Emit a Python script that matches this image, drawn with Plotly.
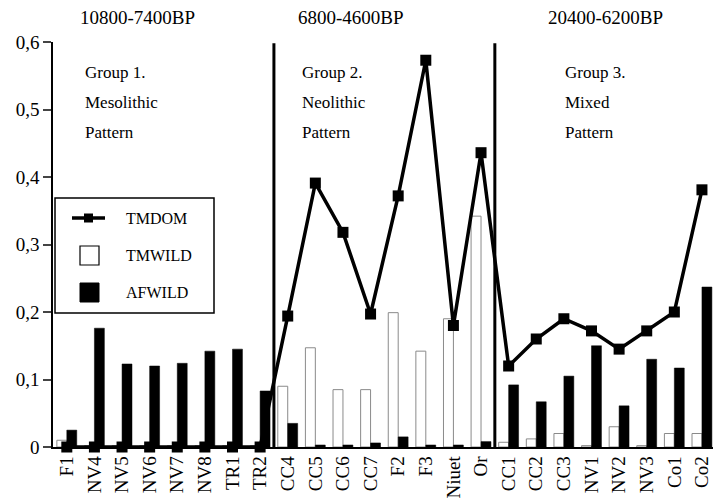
import plotly.graph_objects as go

categories = ["F1", "NV4", "NV5", "NV6", "NV7", "NV8", "TR1", "TR2",
              "CC4", "CC5", "CC6", "CC7", "F2", "F3", "Niuet", "Or",
              "CC1", "CC2", "CC3", "NV1", "NV2", "NV3", "Co1", "Co2"]
tmdom = [0, 0, 0, 0, 0, 0, 0, 0,
         0.194, 0.391, 0.318, 0.197, 0.372, 0.573, 0.180, 0.436,
         0.120, 0.160, 0.190, 0.172, 0.145, 0.172, 0.200, 0.381]
tmwild = [0.010, 0.002, 0.002, 0.002, 0.002, 0.002, 0.002, 0.002,
          0.090, 0.147, 0.085, 0.085, 0.199, 0.142, 0.190, 0.342,
          0.007, 0.012, 0.020, 0.002, 0.030, 0.002, 0.020, 0.020]
afwild = [0.025, 0.176, 0.123, 0.120, 0.124, 0.142, 0.145, 0.083,
          0.035, 0.003, 0.003, 0.006, 0.015, 0.003, 0.003, 0.008,
          0.092, 0.067, 0.105, 0.150, 0.061, 0.130, 0.117, 0.237]
y_ticks = [0, 0.1, 0.2, 0.3, 0.4, 0.5, 0.6]
y_ticktext = ["0", "0,1", "0,2", "0,3", "0,4", "0,5", "0,6"]
period_labels = ["10800-7400BP", "6800-4600BP", "20400-6200BP"]
group_labels = [["Group 1.", "Mesolithic", "Pattern"],
                ["Group 2.", "Neolithic", "Pattern"],
                ["Group 3.", "Mixed", "Pattern"]]
series_names = ["TMDOM", "TMWILD", "AFWILD"]

W, H = 713, 498
ML, MR, MT, MB = 53, 0, 42, 51
PW, PH = W - ML - MR, H - MT - MB
FONT = "Liberation Serif, Times New Roman, serif"


def px(x):
    return (x - ML) / PW


def py(y):
    return (H - MB - y) / PH


xs = list(range(len(categories)))

fig = go.Figure()
fig.add_trace(go.Bar(x=xs, y=tmwild, name=series_names[1],
                     marker=dict(color="white", line=dict(color="#8a8a8a", width=1)),
                     showlegend=False))
fig.add_trace(go.Bar(x=xs, y=afwild, name=series_names[2],
                     marker=dict(color="black", line=dict(color="black", width=0.5)),
                     showlegend=False))
fig.add_trace(go.Scatter(x=xs, y=tmdom, name=series_names[0], mode="lines+markers",
                         line=dict(color="black", width=3.5),
                         marker=dict(symbol="square", size=11, color="black"),
                         cliponaxis=False, showlegend=False))

shapes = []
# group separators
for xsep in [7.5, 15.5]:
    shapes.append(dict(type="line", xref="x", yref="y", x0=xsep, x1=xsep, y0=0, y1=0.598,
                       line=dict(color="black", width=3)))

# manual legend
shapes.append(dict(type="rect", xref="paper", yref="paper",
                   x0=px(55), x1=px(214), y0=py(313), y1=py(198),
                   line=dict(color="black", width=1.5), fillcolor="white", layer="above"))
shapes.append(dict(type="line", xref="paper", yref="paper",
                   x0=px(72), x1=px(105), y0=py(218), y1=py(218),
                   line=dict(color="black", width=3.5), layer="above"))
shapes.append(dict(type="rect", xref="paper", yref="paper",
                   x0=px(84), x1=px(93), y0=py(222.5), y1=py(213.5),
                   line=dict(color="black", width=0), fillcolor="black", layer="above"))
shapes.append(dict(type="rect", xref="paper", yref="paper",
                   x0=px(80), x1=px(99), y0=py(265), y1=py(246),
                   line=dict(color="black", width=1.2), fillcolor="white", layer="above"))
shapes.append(dict(type="rect", xref="paper", yref="paper",
                   x0=px(80), x1=px(99), y0=py(302), y1=py(283),
                   line=dict(color="black", width=1), fillcolor="black", layer="above"))

annotations = []
for name, yy in zip(series_names, [218, 255, 292]):
    annotations.append(dict(text=name, xref="paper", yref="paper", x=px(124), y=py(yy),
                            xanchor="left", yanchor="middle", showarrow=False,
                            font=dict(family=FONT, size=16, color="black")))

for lab, xc in zip(period_labels, [137, 351, 605]):
    annotations.append(dict(text=lab, xref="paper", yref="paper", x=px(xc), y=py(18),
                            xanchor="center", yanchor="middle", showarrow=False,
                            font=dict(family=FONT, size=19, color="black")))

for lines, xl in zip(group_labels, [83, 300, 563]):
    for t, yy in zip(lines, [72, 102, 132]):
        annotations.append(dict(text=t, xref="paper", yref="paper", x=px(xl), y=py(yy),
                                xanchor="left", yanchor="middle", showarrow=False,
                                font=dict(family=FONT, size=17, color="black")))

fig.update_layout(
    width=W, height=H,
    margin=dict(l=ML, r=MR, t=MT, b=MB),
    paper_bgcolor="white", plot_bgcolor="white",
    barmode="group", bargap=0.28, bargroupgap=0,
    shapes=shapes, annotations=annotations,
    showlegend=False,
    font=dict(family=FONT, color="black"),
)
fig.update_xaxes(range=[-0.5, 23.4], tickvals=xs, ticktext=categories,
                 tickangle=-90, tickfont=dict(family=FONT, size=19, color="black"),
                 showgrid=False, zeroline=False, showline=True, linecolor="black",
                 linewidth=1.5, ticks="", automargin=False, ticklabeloverflow="allow")
fig.update_yaxes(range=[0, 0.6], tickvals=y_ticks, ticktext=y_ticktext,
                 tickfont=dict(family=FONT, size=19, color="black"),
                 showgrid=False, zeroline=False, showline=True, linecolor="black",
                 linewidth=1.5, ticks="outside", ticklen=8, tickwidth=1.5, automargin=False)

fig.write_html(
    "out.html",
    config={"displayModeBar": False},
    post_script="document.body.style.margin='0';document.body.style.overflow='hidden';",
)
